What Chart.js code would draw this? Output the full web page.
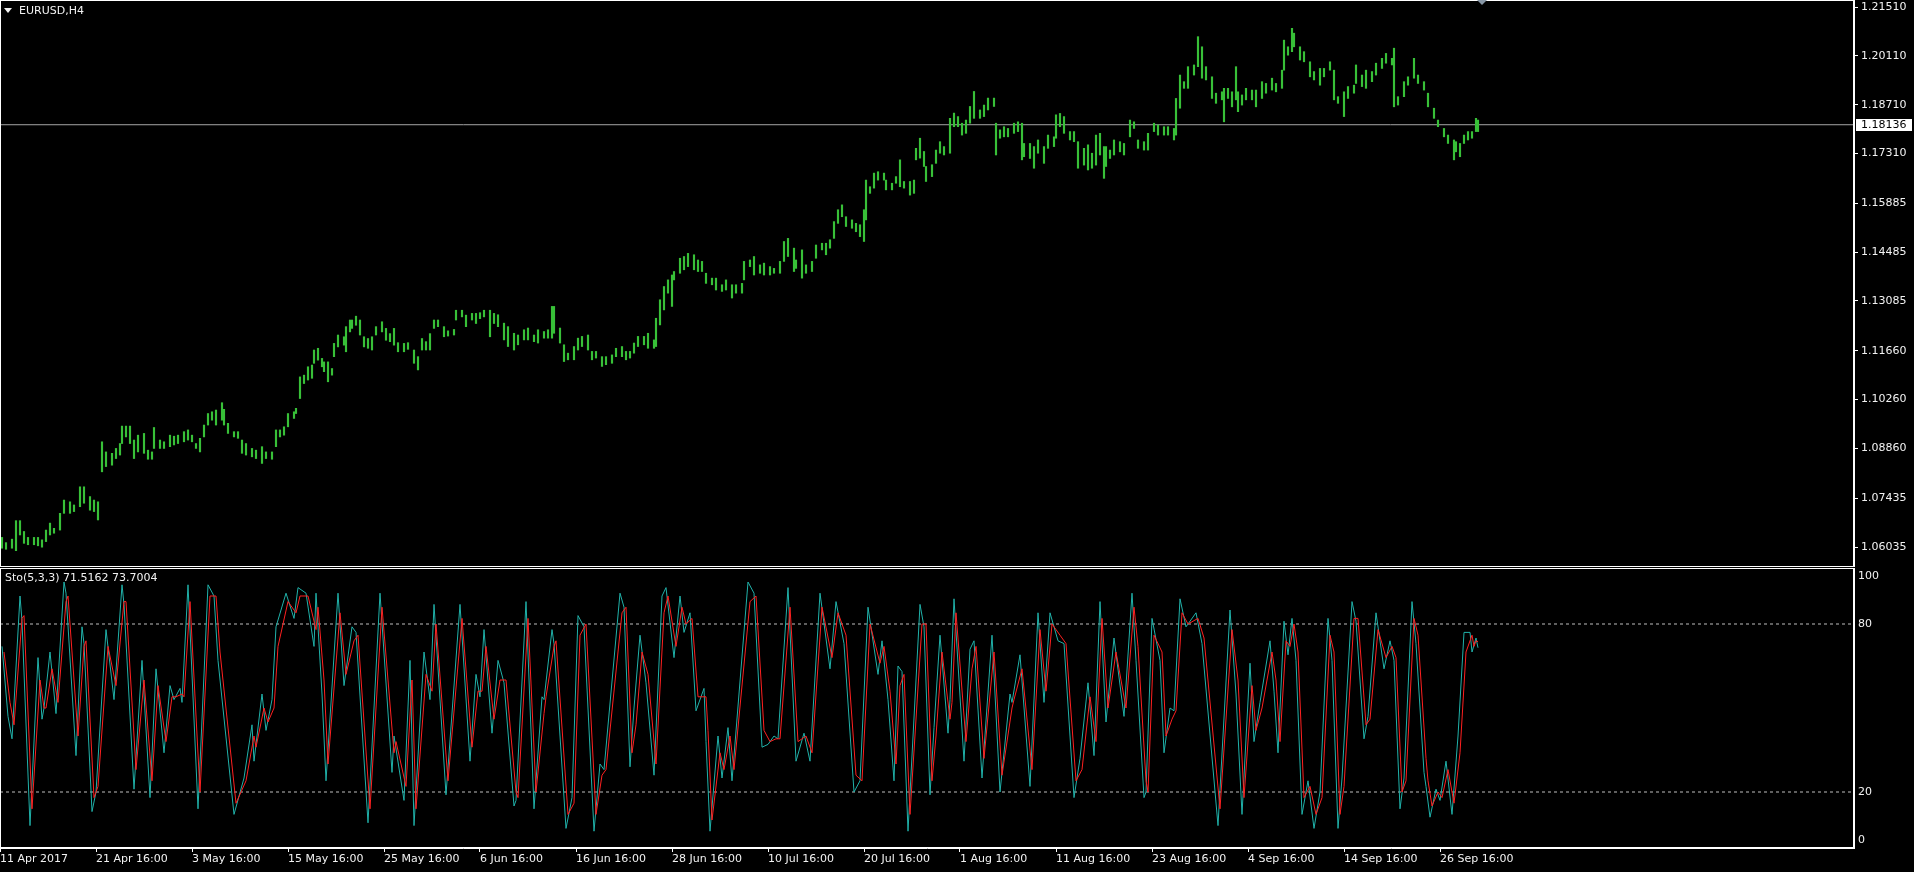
<!DOCTYPE html>
<html>
<head>
<meta charset="utf-8">
<title>EURUSD,H4</title>
<script src="https://cdn.jsdelivr.net/npm/chart.js@4.4.0/dist/chart.umd.min.js"></script>
<style>
  html, body { margin: 0; padding: 0; background: #000; overflow: hidden; }
  #wrap { position: relative; width: 1914px; height: 872px; }
  canvas { position: absolute; left: 0; }
  #priceChart { top: 0; }
  #stochChart { top: 567px; }
</style>
</head>
<body>
<div id="wrap">
  <canvas id="priceChart" width="1914" height="567"></canvas>
  <canvas id="stochChart" width="1914" height="305"></canvas>
</div>
<script>
// ---- data (bar index = H4 bar number from 11 Apr 2017) ----
const symbolName = 'EURUSD,H4';
const lastPrice = 1.18136;
const barCount = 927;      // bars that fit the window
const shiftBar = 741;      // chart shift marker

const priceTicks = [1.21510, 1.20110, 1.18710, 1.17310, 1.15885, 1.14485, 1.13085,
                    1.11660, 1.10260, 1.08860, 1.07435, 1.06035];
const timeTicks = [0, 48, 96, 144, 192, 240, 288, 336, 384, 432, 480, 528, 576, 624, 672, 720];
const timeLabels = ['11 Apr 2017', '21 Apr 16:00', '3 May 16:00', '15 May 16:00', '25 May 16:00',
                    '6 Jun 16:00', '16 Jun 16:00', '28 Jun 16:00', '10 Jul 16:00', '20 Jul 16:00',
                    '1 Aug 16:00', '11 Aug 16:00', '23 Aug 16:00', '4 Sep 16:00', '14 Sep 16:00',
                    '26 Sep 16:00'];
const stochLevels = [80, 20];
const stochTickLabels = [100, 80, 20, 0];

const priceIdx = [
  1,3,6,8,10,12,14,17,19,21, 23,25,27,30,32,35,37,40,42,45,
  47,49,51,53,56,58,60,61,63,65, 67,69,72,74,76,77,80,82,85,87,
  89,92,94,96,98,100,102,104,106,108, 111,112,114,117,119,121,123,126,128,131,
  133,136,138,140,142,144,147,148,150,152, 154,156,157,159,161,162,164,166,167,169,
  172,173,175,176,178,180,182,184,186,188, 191,193,195,197,199,202,204,207,209,211,
  213,215,217,219,222,224,227,228,231,233, 236,238,240,242,245,247,
  249,252,254,257,259,262,264,267,269,272, 274,276,277,280,282,284,287,289,291,294,
  296,298,301,303,306,308,311,313,315,317, 319,322,324,327,328,330,332,334,336,337,
  340,342,344,347,349,351,353,356,358,361, 363,366,368,371,372,375,377,380,382,385,
  387,390,392,394,397,398,401,403,406,408, 411,413,415,417,419,421,423,426,428,430,
  432,433,435,437,439,442,443,446,448,450, 452,455,457,458,460,462,463,466,468,470,
  472,475,477,479,481,483,485,487,490,492, 494,497,498,
  500,502,504,507,509,511,512,515,517,519, 522,524,527,528,530,532,535,537,539,542,
  544,546,548,550,552,553,555,557,560,562, 565,567,569,572,574,577,579,582,584,587,
  588,590,592,594,597,599,601,603,606,608, 611,612,614,616,618,619,621,623,626,628,
  631,633,636,638,641,642,644,646,647,650, 652,655,657,660,662,665,667,669,672,674,
  677,678,681,683,686,688,691,693,696,697, 699,702,704,707,709,712,714,717,719,722,
  724,727,728,730,732,734,736,738,739
];
const priceHigh = [
  1.0631,1.0616,1.0626,1.0679,1.0679,1.0648,1.0631,1.0631,1.0631,1.0624,
  1.0652,1.0672,1.0657,1.0700,1.0738,1.0733,1.0724,1.0776,1.0776,1.0748,
  1.0738,1.0733,1.0905,1.0876,1.0872,1.0886,1.0900,1.0950,1.0950,1.0950,
  1.0910,1.0924,1.0929,1.0881,1.0876,1.0946,1.0910,1.0905,1.0924,1.0921,
  1.0924,1.0934,1.0939,1.0924,1.0900,1.0915,1.0953,1.0986,1.0991,1.0996,
  1.1017,1.0998,1.0958,1.0934,1.0934,1.0910,1.0900,1.0886,1.0881,1.0891,
  1.0876,1.0876,1.0939,1.0939,1.0948,1.0986,1.0991,1.1001,1.1091,1.1096,
  1.1120,1.1125,1.1168,1.1173,1.1144,1.1134,1.1134,1.1115,1.1187,1.1211,
  1.1206,1.1235,1.1254,1.1254,1.1265,1.1254,1.1206,1.1201,1.1206,1.1235,
  1.1249,1.1230,1.1215,1.1230,1.1189,1.1187,1.1189,1.1168,1.1149,1.1201,
  1.1192,1.1215,1.1254,1.1254,1.1235,1.1223,1.1227,1.1282,1.1282,1.1268,
  1.1273,1.1273,1.1275,1.1282,1.1282,1.1273,
  1.1269,1.1245,1.1235,1.1216,1.1211,1.1226,1.1231,1.1211,1.1226,1.1221,
  1.1226,1.1293,1.1293,1.1231,1.1183,1.1159,1.1178,1.1202,1.1207,1.1211,
  1.1164,1.1164,1.1149,1.1149,1.1154,1.1173,1.1178,1.1164,1.1164,1.1188,
  1.1207,1.1207,1.1216,1.1197,1.1259,1.1312,1.1350,1.1369,1.1383,1.1393,
  1.1431,1.1436,1.1445,1.1441,1.1426,1.1422,1.1388,1.1374,1.1374,1.1355,
  1.1369,1.1355,1.1355,1.1359,1.1422,1.1426,1.1436,1.1412,1.1417,1.1407,
  1.1402,1.1422,1.1479,1.1488,1.1460,1.1426,1.1455,1.1412,1.1422,1.1469,
  1.1474,1.1474,1.1484,1.1536,1.1570,1.1584,1.1550,1.1541,1.1531,1.1527,
  1.1570,1.1655,1.1636,1.1675,1.1679,1.1675,1.1655,1.1646,1.1665,1.1713,
  1.1651,1.1651,1.1655,1.1746,1.1775,1.1737,1.1694,1.1699,1.1741,1.1765,
  1.1751,1.1832,1.1847,1.1837,1.1818,1.1827,1.1866,1.1909,1.1856,1.1870,
  1.1890,1.1890,1.1818,
  1.1799,1.1808,1.1803,1.1818,1.1822,1.1818,1.1760,1.1760,1.1751,1.1770,
  1.1751,1.1784,1.1779,1.1842,1.1846,1.1837,1.1794,1.1794,1.1765,1.1746,
  1.1756,1.1732,1.1784,1.1789,1.1751,1.1751,1.1741,1.1770,1.1765,1.1760,
  1.1827,1.1822,1.1770,1.1765,1.1789,1.1818,1.1813,1.1808,1.1808,1.1803,
  1.1889,1.1956,1.1937,1.1980,1.1985,1.2066,1.2037,1.1980,1.1951,1.1904,
  1.1908,1.1918,1.1918,1.1908,1.1980,1.1908,1.1899,1.1918,1.1913,1.1913,
  1.1937,1.1932,1.1947,1.1932,1.1970,1.2056,1.2037,1.2090,1.2076,1.2037,
  1.2023,1.1994,1.1966,1.1975,1.1975,1.1994,1.1970,1.1894,1.1908,1.1923,
  1.1927,1.1985,1.1956,1.1970,1.1966,1.1990,1.2004,1.2018,1.2004,1.2033,
  1.1894,1.1937,1.1951,1.2004,1.1956,1.1937,1.1904,1.1861,1.1827,1.1803,
  1.1784,1.1770,1.1765,1.1760,1.1784,1.1794,1.1794,1.1832,1.1827
];
const priceLow = [
  1.0600,1.0597,1.0600,1.0593,1.0638,1.0614,1.0610,1.0610,1.0607,1.0603,
  1.0619,1.0638,1.0643,1.0652,1.0700,1.0700,1.0705,1.0719,1.0729,1.0709,
  1.0705,1.0681,1.0819,1.0834,1.0838,1.0857,1.0867,1.0900,1.0919,1.0900,
  1.0857,1.0876,1.0872,1.0855,1.0855,1.0886,1.0886,1.0886,1.0891,1.0896,
  1.0900,1.0905,1.0910,1.0905,1.0886,1.0876,1.0919,1.0953,1.0967,1.0953,
  1.0967,1.0953,1.0929,1.0919,1.0915,1.0872,1.0867,1.0862,1.0857,1.0843,
  1.0857,1.0855,1.0891,1.0919,1.0924,1.0948,1.0972,1.0986,1.1029,1.1072,
  1.1082,1.1087,1.1130,1.1139,1.1120,1.1106,1.1077,1.1096,1.1149,1.1177,
  1.1182,1.1163,1.1220,1.1230,1.1239,1.1211,1.1177,1.1173,1.1168,1.1211,
  1.1220,1.1196,1.1192,1.1182,1.1163,1.1163,1.1170,1.1130,1.1111,1.1168,
  1.1168,1.1168,1.1230,1.1235,1.1206,1.1208,1.1211,1.1254,1.1263,1.1235,
  1.1254,1.1244,1.1258,1.1263,1.1206,1.1244,
  1.1235,1.1197,1.1178,1.1168,1.1183,1.1197,1.1197,1.1192,1.1188,1.1202,
  1.1202,1.1202,1.1216,1.1188,1.1135,1.1140,1.1140,1.1168,1.1178,1.1168,
  1.1140,1.1145,1.1121,1.1126,1.1130,1.1149,1.1149,1.1140,1.1145,1.1159,
  1.1178,1.1183,1.1173,1.1173,1.1178,1.1240,1.1283,1.1331,1.1293,1.1369,
  1.1388,1.1398,1.1407,1.1398,1.1393,1.1393,1.1359,1.1355,1.1340,1.1336,
  1.1340,1.1317,1.1331,1.1331,1.1369,1.1407,1.1383,1.1388,1.1383,1.1383,
  1.1388,1.1388,1.1422,1.1436,1.1393,1.1402,1.1374,1.1388,1.1393,1.1431,
  1.1455,1.1441,1.1460,1.1488,1.1531,1.1550,1.1522,1.1517,1.1507,1.1493,
  1.1479,1.1541,1.1617,1.1632,1.1655,1.1655,1.1627,1.1627,1.1646,1.1636,
  1.1632,1.1612,1.1617,1.1713,1.1718,1.1694,1.1651,1.1665,1.1703,1.1732,
  1.1727,1.1732,1.1808,1.1808,1.1784,1.1789,1.1818,1.1832,1.1832,1.1837,
  1.1856,1.1866,1.1727,
  1.1775,1.1779,1.1779,1.1789,1.1794,1.1713,1.1722,1.1717,1.1689,1.1732,
  1.1703,1.1746,1.1751,1.1775,1.1808,1.1789,1.1770,1.1765,1.1689,1.1698,
  1.1684,1.1689,1.1698,1.1727,1.1660,1.1694,1.1717,1.1727,1.1736,1.1727,
  1.1779,1.1803,1.1746,1.1741,1.1741,1.1794,1.1784,1.1784,1.1784,1.1770,
  1.1784,1.1861,1.1918,1.1918,1.1956,1.1980,1.1947,1.1942,1.1889,1.1875,
  1.1885,1.1822,1.1889,1.1865,1.1885,1.1851,1.1870,1.1885,1.1885,1.1865,
  1.1889,1.1904,1.1913,1.1908,1.1918,1.1970,1.2013,1.2023,1.2037,1.1999,
  1.1994,1.1951,1.1942,1.1927,1.1951,1.1970,1.1885,1.1875,1.1837,1.1889,
  1.1904,1.1932,1.1923,1.1918,1.1937,1.1956,1.1975,1.1990,1.1985,1.1865,
  1.1870,1.1894,1.1927,1.1947,1.1932,1.1913,1.1865,1.1832,1.1808,1.1779,
  1.1760,1.1713,1.1736,1.1722,1.1760,1.1770,1.1775,1.1794,1.1794
];

// Stochastic(5,3,3): main line and signal line
const stochIdx = [
  1,4,6,10,11,15,19,21,22,25, 28,32,33,38,41,42,46,48,53,57,
  61,62,67,71,75,78,82,85,87,90, 91,94,99,104,107,109,117,122,126,127,
  131,133,136,138,143,147,149,153,157,158, 161,163,169,172,176,178,184,190,196,197,
  202,205,207,212,215,217,223,230,235,238, 240,242,246,
  249,252,257,258,263,267,271,272,276,277, 283,286,289,292,297,300,302,310,312,315,
  317,320,323,327,331,333,337,340,342,345, 348,352,353,355,359,361,364,366,374,377,
  381,384,387,389,394,398,402,405,410,415, 418,422,427,430,434,439,441,444,447,449,
  451,454,460,462,465,467,470,474,475,477, 482,485,487,491,
  496,500,505,506,510,515,519,522,525,529, 532,537,540,544,547,550,553,557,562,566,
  568,572,573,576,580,582,585,587,590,593, 598,601,609,615,618,621,625,627,630,635,
  637,639,642,644,646,648,651,654,657,660, 664,666,669,671,676,678,682,684,688,692,
  695,697,700,702,706,708,712,713,715,718, 720,723,726,729,732,735,736,738,739
];
const stochMain = [
  72,47,39,90,81,8,68,46,50,70, 48,95,91,33,79,73,13,20,78,53,
  94,87,21,67,18,64,34,58,53,57, 52,94,14,94,90,67,12,25,44,31,
  55,42,53,79,91,82,93,91,72,91, 55,24,91,58,79,77,9,91,27,40,
  17,67,8,70,53,87,19,87,31,62, 54,78,41,
  67,59,15,17,88,14,54,53,78,73, 7,18,83,79,6,30,28,91,86,29,
  50,76,59,26,90,93,68,90,77,84, 49,57,38,6,40,25,43,24,95,91,
  36,37,40,39,93,31,41,31,91,64, 88,73,20,24,86,62,74,53,24,65,
  63,6,87,79,19,43,76,41,53,89, 31,71,74,25,
  76,20,55,52,69,22,84,52,84,74, 73,18,32,59,33,88,45,75,47,91,
  67,18,20,82,67,34,50,49,89,79, 84,73,8,85,55,12,66,38,52,74,
  56,34,81,69,82,67,12,24,7,20, 82,67,7,25,88,81,39,47,84,64,
  74,67,14,25,88,73,27,22,11,21, 17,31,12,40,77,77,70,75,71.5162
];
const signalIdx = [
  2,5,7,11,12,16,20,22,23,26, 29,33,34,39,42,43,47,49,54,58,
  62,63,68,72,76,79,83,86,88,91, 92,95,100,105,108,110,118,123,127,128,
  132,134,137,139,144,148,150,154,158,159, 162,164,170,173,177,179,185,191,197,198,
  203,206,208,213,216,218,224,231,236,239, 241,243,247,
  250,253,258,259,264,268,272,273,277,278, 284,287,290,293,298,301,303,311,313,316,
  318,321,324,328,332,334,338,341,343,346, 349,353,354,356,360,362,365,367,375,378,
  382,385,388,390,395,399,403,406,411,416, 419,423,428,431,435,440,442,445,448,450,
  452,455,461,463,466,468,471,475,476,478, 483,486,488,492,
  497,501,506,507,511,516,520,523,526,530, 533,538,541,545,548,551,554,558,563,567,
  569,573,574,577,581,583,586,588,591,594, 599,602,610,616,619,622,626,628,631,636,
  638,640,643,645,647,649,652,655,658,661, 665,667,670,672,677,679,683,685,689,693,
  696,698,701,703,707,709,713,714,716,719, 721,724,727,730,733,736,737,738,739
];
const stochSignal = [
  70,52,44,82,83,14,60,50,50,64, 52,88,90,40,72,74,18,22,72,58,
  88,88,28,60,24,58,38,54,54,55, 54,88,20,90,90,70,16,24,40,36,
  50,45,50,72,88,84,90,90,78,86, 60,30,84,62,74,76,14,86,34,38,
  22,60,14,62,56,80,24,82,36,56, 56,72,46,
  60,60,20,18,82,20,48,54,72,74, 12,16,76,80,12,26,28,84,86,34,
  44,70,62,30,84,90,72,86,80,82, 54,54,42,10,34,28,40,28,88,90,
  42,38,39,39,86,38,40,34,86,68, 84,76,26,24,80,66,72,56,30,58,
  62,12,80,80,24,40,70,46,52,84, 38,64,72,32,
  70,26,50,53,64,28,78,56,80,76, 73,24,28,54,38,82,50,70,50,86,
  72,24,20,76,70,40,46,49,84,80, 82,75,14,78,60,18,58,42,50,70,
  60,38,74,72,80,70,18,22,12,18, 76,70,12,22,82,82,44,46,78,68,
  72,68,20,24,82,76,32,24,15,20, 18,28,16,34,70,76,72,74,73.7004
];

// ---- look ----
const FONT = 'DejaVu Sans';
const TEXT = '#f2f2f2';
const AXIS_W = 60;
Chart.defaults.font.family = FONT;
Chart.defaults.font.size = 11;
Chart.defaults.color = TEXT;

function pts(xs, ys) {
  return xs.map((x, i) => ({ x: x, y: ys[i] }));
}

// fixed axis width, and no extra room for half labels at the ends
function fitRight(s) {
  s.width = AXIS_W;
  s.paddingTop = 0;
  s.paddingBottom = 0;
}

// white frame around each pane
const framePlugin = {
  id: 'frame',
  afterDraw(chart) {
    const { ctx, chartArea: a } = chart;
    ctx.save();
    ctx.strokeStyle = '#ffffff';
    ctx.lineWidth = 1;
    ctx.strokeRect(a.left + 0.5, a.top + 0.5, a.right - a.left - 1, a.bottom - a.top - 1);
    ctx.restore();
  }
};

const priceDecor = {
  id: 'priceDecor',
  afterDraw(chart) {
    const { ctx, chartArea: a, scales } = chart;
    ctx.save();
    // symbol caption with the little menu triangle
    ctx.fillStyle = TEXT;
    ctx.beginPath();
    ctx.moveTo(a.left + 4, a.top + 8);
    ctx.lineTo(a.left + 12, a.top + 8);
    ctx.lineTo(a.left + 8, a.top + 13);
    ctx.closePath();
    ctx.fill();
    ctx.font = '11px ' + FONT;
    ctx.textBaseline = 'middle';
    ctx.fillText(symbolName, a.left + 19, a.top + 11);

    // current price box on the axis
    const y = Math.round(scales.y.getPixelForValue(lastPrice));
    ctx.fillStyle = '#ffffff';
    ctx.fillRect(a.right + 2, y - 6, 56, 12);
    ctx.fillStyle = '#000000';
    ctx.fillText(lastPrice.toFixed(5), a.right + 7, y + 0.5);

    // chart shift marker
    const sx = scales.x.getPixelForValue(shiftBar);
    ctx.fillStyle = '#8796a5';
    ctx.beginPath();
    ctx.moveTo(sx - 5, a.top);
    ctx.lineTo(sx + 5, a.top);
    ctx.lineTo(sx, a.top + 5);
    ctx.closePath();
    ctx.fill();
    ctx.restore();
  }
};

const stochDecor = {
  id: 'stochDecor',
  afterDraw(chart) {
    const { ctx, chartArea: a, scales } = chart;
    ctx.save();
    ctx.fillStyle = TEXT;
    ctx.font = '11px ' + FONT;
    ctx.textBaseline = 'middle';
    const k = stochMain[stochMain.length - 1].toFixed(4);
    const d = stochSignal[stochSignal.length - 1].toFixed(4);
    ctx.fillText('Sto(5,3,3) ' + k + ' ' + d, a.left + 5, a.top + 10);
    // level labels, kept inside the pane
    stochTickLabels.forEach(v => {
      let y = scales.y.getPixelForValue(v);
      y = Math.min(Math.max(y, a.top + 8), a.bottom - 8);
      ctx.fillText(String(v), a.right + 4, y);
    });
    ctx.restore();
  }
};

new Chart(document.getElementById('priceChart'), {
  type: 'bar',
  data: {
    datasets: [
      {
        label: 'EURUSD',
        data: priceIdx.map((x, i) => ({ x: x, y: [priceLow[i], priceHigh[i]] })),
        backgroundColor: '#38c038',
        borderWidth: 0,
        barThickness: 1.5
      },
      {
        type: 'line',
        label: 'Bid',
        data: [{ x: 0, y: lastPrice }, { x: barCount, y: lastPrice }],
        borderColor: '#a6a6a6',
        borderWidth: 1,
        pointRadius: 0
      }
    ]
  },
  options: {
    responsive: false,
    animation: false,
    layout: { padding: 0 },
    plugins: { legend: { display: false }, tooltip: { enabled: false } },
    scales: {
      x: { type: 'linear', min: 0, max: barCount, offset: false, display: false },
      y: {
        position: 'right',
        min: 1.05462,
        max: 1.21711,
        afterBuildTicks: s => { s.ticks = priceTicks.map(v => ({ value: v })); },
        afterFit: fitRight,
        grid: { drawOnChartArea: false, color: '#ffffff', tickLength: 4 },
        border: { color: '#ffffff' },
        ticks: { color: TEXT, padding: 3, callback: v => v.toFixed(5) }
      }
    }
  },
  plugins: [framePlugin, priceDecor]
});

new Chart(document.getElementById('stochChart'), {
  type: 'line',
  data: {
    datasets: [
      {
        label: 'Signal',
        data: pts(signalIdx, stochSignal),
        borderColor: '#ff2020',
        borderWidth: 1,
        pointRadius: 0,
        tension: 0
      },
      {
        label: 'Main',
        data: pts(stochIdx, stochMain),
        borderColor: '#20b2aa',
        borderWidth: 1,
        pointRadius: 0,
        tension: 0
      },
      ...stochLevels.map(v => ({
        label: 'Level ' + v,
        data: [{ x: 0, y: v }, { x: barCount, y: v }],
        borderColor: '#bdbdbd',
        borderWidth: 1,
        borderDash: [3, 3],
        pointRadius: 0
      }))
    ]
  },
  options: {
    responsive: false,
    animation: false,
    layout: { padding: { top: 1 } },
    plugins: { legend: { display: false }, tooltip: { enabled: false } },
    scales: {
      x: {
        type: 'linear',
        min: 0,
        max: barCount,
        afterBuildTicks: s => { s.ticks = timeTicks.map(v => ({ value: v })); },
        afterFit: s => { s.height = 24; s.paddingLeft = 0; s.paddingRight = 0; },
        grid: { drawOnChartArea: false, color: '#ffffff', tickLength: 4 },
        border: { color: '#ffffff' },
        ticks: {
          color: TEXT,
          align: 'start',
          autoSkip: false,
          maxRotation: 0,
          padding: 1,
          callback: v => timeLabels[timeTicks.indexOf(v)]
        }
      },
      y: {
        position: 'right',
        min: 0,
        max: 100,
        afterFit: fitRight,
        grid: { display: false },
        border: { color: '#ffffff' },
        ticks: { display: false }
      }
    }
  },
  plugins: [framePlugin, stochDecor]
});
</script>
</body>
</html>
